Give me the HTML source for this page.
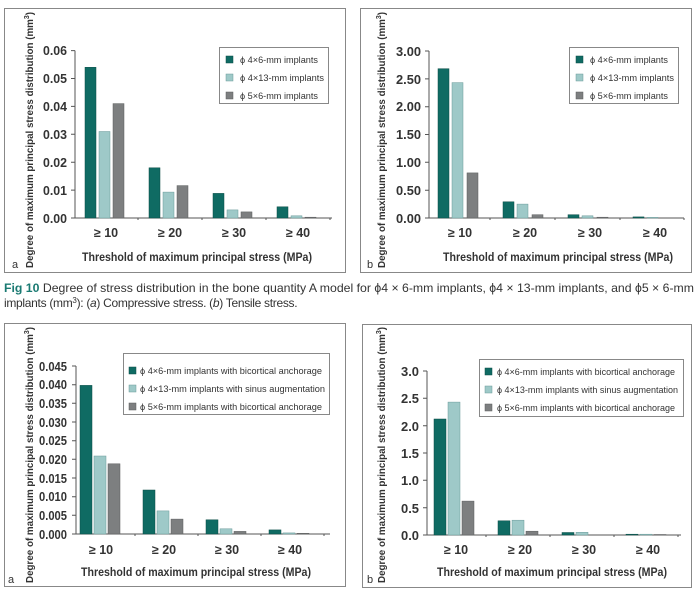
<!DOCTYPE html>
<html><head><meta charset="utf-8"><style>
body{margin:0;background:#fff}
svg{display:block;font-family:"Liberation Sans",sans-serif}
.t{font-size:12.5px;font-weight:bold;fill:#333}
.yt{font-size:10px;font-weight:bold;fill:#333}
.xt{font-size:11.5px;font-weight:bold;fill:#333}
.lg{font-size:9.5px;fill:#333}
.A{fill:#0f6b63;stroke:#0a4d47;stroke-width:.5}
.B{fill:#9ec9c8;stroke:#6a9a99;stroke-width:.5}
.C{fill:#7d7f80;stroke:#5a5c5d;stroke-width:.5}
.ax{stroke:#555;stroke-width:1;fill:none}
.box{fill:none;stroke:#888;stroke-width:1}
.cap{font-size:12px;fill:#333}
</style></head><body>
<svg width="700" height="592" viewBox="0 0 700 592">
<!-- Panel A1 -->
<rect class="box" x="4.5" y="8.5" width="341" height="264"/>
<path class="ax" d="M75 50.6V218H332 M71 50.6H75 M71 78.5H75 M71 106.4H75 M71 134.3H75 M71 162.2H75 M71 190.1H75 M71 218H75 M138 218v2 M202 218v2 M266 218v2 M330 218v2"/>
<g class="t" text-anchor="end"><text x="67" y="55" textLength="24" lengthAdjust="spacingAndGlyphs">0.06</text><text x="67" y="83" textLength="24" lengthAdjust="spacingAndGlyphs">0.05</text><text x="67" y="111" textLength="24" lengthAdjust="spacingAndGlyphs">0.04</text><text x="67" y="139" textLength="24" lengthAdjust="spacingAndGlyphs">0.03</text><text x="67" y="167" textLength="24" lengthAdjust="spacingAndGlyphs">0.02</text><text x="67" y="195" textLength="24" lengthAdjust="spacingAndGlyphs">0.01</text><text x="67" y="223" textLength="24" lengthAdjust="spacingAndGlyphs">0.00</text></g>
<rect class="A" x="85" y="67.3" width="11" height="150.7"/><rect class="B" x="99" y="131.5" width="11" height="86.5"/><rect class="C" x="113" y="103.6" width="11" height="114.4"/>
<rect class="A" x="149" y="167.8" width="11" height="50.2"/><rect class="B" x="163" y="192.1" width="11" height="25.9"/><rect class="C" x="177" y="185.6" width="11" height="32.4"/>
<rect class="A" x="213" y="193.4" width="11" height="24.6"/><rect class="B" x="227" y="209.9" width="11" height="8.1"/><rect class="C" x="241" y="211.9" width="11" height="6.1"/>
<rect class="A" x="277" y="206.8" width="11" height="11.2"/><rect class="B" x="291" y="215.8" width="11" height="2.2"/><rect class="C" x="305" y="217.2" width="11" height="0.8"/>
<g class="t" text-anchor="middle"><text x="106" y="237">≥ 10</text><text x="170" y="237">≥ 20</text><text x="234" y="237">≥ 30</text><text x="298" y="237">≥ 40</text></g>
<text class="xt" x="82" y="261" textLength="230" lengthAdjust="spacingAndGlyphs">Threshold of maximum principal stress (MPa)</text>
<text class="yt" transform="translate(33,268) rotate(-90)" textLength="256" lengthAdjust="spacingAndGlyphs">Degree of maximum principal stress distribution (mm<tspan dy="-4" font-size="7">3</tspan><tspan dy="4">)</tspan></text>
<text x="12" y="268" font-size="11" fill="#333">a</text>
<rect x="219.5" y="47.5" width="109" height="56" fill="#fff" stroke="#888"/>
<rect class="A" x="226" y="56" width="7" height="7"/><rect class="B" x="226" y="74" width="7" height="7"/><rect class="C" x="226" y="92" width="7" height="7"/>
<g class="lg"><text x="240" y="63" textLength="78" lengthAdjust="spacingAndGlyphs">ϕ 4×6-mm implants</text><text x="240" y="81" textLength="84" lengthAdjust="spacingAndGlyphs">ϕ 4×13-mm implants</text><text x="240" y="99" textLength="78" lengthAdjust="spacingAndGlyphs">ϕ 5×6-mm implants</text></g>

<!-- Panel B1 -->
<rect class="box" x="360.5" y="8.5" width="331" height="264"/>
<path class="ax" d="M429 51V218H684 M425 51H429 M425 78.9H429 M425 106.7H429 M425 134.5H429 M425 162.3H429 M425 190.2H429 M425 218H429 M490 218v2 M555 218v2 M620 218v2 M684 218v2"/>
<g class="t" text-anchor="end"><text x="421" y="56" textLength="25" lengthAdjust="spacingAndGlyphs">3.00</text><text x="421" y="84" textLength="25" lengthAdjust="spacingAndGlyphs">2.50</text><text x="421" y="111" textLength="25" lengthAdjust="spacingAndGlyphs">2.00</text><text x="421" y="139" textLength="25" lengthAdjust="spacingAndGlyphs">1.50</text><text x="421" y="167" textLength="25" lengthAdjust="spacingAndGlyphs">1.00</text><text x="421" y="195" textLength="25" lengthAdjust="spacingAndGlyphs">0.50</text><text x="421" y="223" textLength="25" lengthAdjust="spacingAndGlyphs">0.00</text></g>
<rect class="A" x="438" y="68.7" width="11" height="149.3"/><rect class="B" x="452" y="82.6" width="11" height="135.4"/><rect class="C" x="467" y="172.9" width="11" height="45.1"/>
<rect class="A" x="503" y="201.8" width="11" height="16.2"/><rect class="B" x="517" y="204.1" width="11" height="13.9"/><rect class="C" x="532" y="214.7" width="11" height="3.3"/>
<rect class="A" x="568" y="214.7" width="11" height="3.3"/><rect class="B" x="582" y="215.8" width="11" height="2.2"/><rect class="C" x="597" y="217.2" width="11" height="0.8"/>
<rect class="A" x="633" y="216.9" width="11" height="1.1"/><rect class="B" x="647" y="217.4" width="11" height="0.6"/>
<g class="t" text-anchor="middle"><text x="460" y="237">≥ 10</text><text x="525" y="237">≥ 20</text><text x="590" y="237">≥ 30</text><text x="655" y="237">≥ 40</text></g>
<text class="xt" x="443" y="261" textLength="230" lengthAdjust="spacingAndGlyphs">Threshold of maximum principal stress (MPa)</text>
<text class="yt" transform="translate(385,268) rotate(-90)" textLength="256" lengthAdjust="spacingAndGlyphs">Degree of maximum principal stress distribution (mm<tspan dy="-4" font-size="7">3</tspan><tspan dy="4">)</tspan></text>
<text x="367" y="268" font-size="11" fill="#333">b</text>
<rect x="569.5" y="47.5" width="109" height="56" fill="#fff" stroke="#888"/>
<rect class="A" x="576" y="56" width="7" height="7"/><rect class="B" x="576" y="74" width="7" height="7"/><rect class="C" x="576" y="92" width="7" height="7"/>
<g class="lg"><text x="590" y="63" textLength="78" lengthAdjust="spacingAndGlyphs">ϕ 4×6-mm implants</text><text x="590" y="81" textLength="84" lengthAdjust="spacingAndGlyphs">ϕ 4×13-mm implants</text><text x="590" y="99" textLength="78" lengthAdjust="spacingAndGlyphs">ϕ 5×6-mm implants</text></g>

<!-- Caption -->
<text class="cap" x="4" y="292" textLength="690" lengthAdjust="spacingAndGlyphs"><tspan fill="#1a7a72" font-weight="bold">Fig 10</tspan>   Degree of stress distribution in the bone quantity A model for ϕ4 × 6-mm implants, ϕ4 × 13-mm implants, and ϕ5 × 6-mm</text>
<text class="cap" x="4" y="307" font-size="11.5" letter-spacing="-0.3">implants (mm<tspan dy="-4" font-size="8">3</tspan><tspan dy="4">): (</tspan><tspan font-style="italic">a</tspan>) Compressive stress. (<tspan font-style="italic">b</tspan>) Tensile stress.</text>

<!-- Panel A2 -->
<rect class="box" x="4.5" y="323.5" width="341" height="263"/>
<path class="ax" d="M76 366V534H330 M72 366H76 M72 384.7H76 M72 403.3H76 M72 422H76 M72 440.7H76 M72 459.3H76 M72 478H76 M72 496.7H76 M72 515.3H76 M72 534H76 M135 534v2 M198 534v2 M261 534v2 M324 534v2"/>
<g class="t" text-anchor="end"><text x="67" y="371" textLength="28" lengthAdjust="spacingAndGlyphs">0.045</text><text x="67" y="389" textLength="28" lengthAdjust="spacingAndGlyphs">0.040</text><text x="67" y="408" textLength="28" lengthAdjust="spacingAndGlyphs">0.035</text><text x="67" y="427" textLength="28" lengthAdjust="spacingAndGlyphs">0.030</text><text x="67" y="445" textLength="28" lengthAdjust="spacingAndGlyphs">0.025</text><text x="67" y="464" textLength="28" lengthAdjust="spacingAndGlyphs">0.020</text><text x="67" y="483" textLength="28" lengthAdjust="spacingAndGlyphs">0.015</text><text x="67" y="501" textLength="28" lengthAdjust="spacingAndGlyphs">0.010</text><text x="67" y="520" textLength="28" lengthAdjust="spacingAndGlyphs">0.005</text><text x="67" y="539" textLength="28" lengthAdjust="spacingAndGlyphs">0.000</text></g>
<rect class="A" x="80" y="385.4" width="12" height="148.6"/><rect class="B" x="94" y="456" width="12" height="78"/><rect class="C" x="108" y="463.8" width="12" height="70.2"/>
<rect class="A" x="143" y="490" width="12" height="44"/><rect class="B" x="157" y="510.9" width="12" height="23.1"/><rect class="C" x="171" y="519.1" width="12" height="14.9"/>
<rect class="A" x="206" y="519.8" width="12" height="14.2"/><rect class="B" x="220" y="528.8" width="12" height="5.2"/><rect class="C" x="234" y="531.4" width="12" height="2.6"/>
<rect class="A" x="269" y="529.9" width="12" height="4.1"/><rect class="B" x="283" y="532.9" width="12" height="1.1"/><rect class="C" x="297" y="533.3" width="12" height="0.7"/>
<g class="t" text-anchor="middle"><text x="101" y="554">≥ 10</text><text x="164" y="554">≥ 20</text><text x="227" y="554">≥ 30</text><text x="290" y="554">≥ 40</text></g>
<text class="xt" x="81" y="576" textLength="230" lengthAdjust="spacingAndGlyphs">Threshold of maximum principal stress (MPa)</text>
<text class="yt" transform="translate(33,583) rotate(-90)" textLength="256" lengthAdjust="spacingAndGlyphs">Degree of maximum principal stress distribution (mm<tspan dy="-4" font-size="7">3</tspan><tspan dy="4">)</tspan></text>
<text x="8" y="583" font-size="11" fill="#333">a</text>
<rect x="123.5" y="353.5" width="206" height="61" fill="#fff" stroke="#888"/>
<rect class="A" x="129" y="367" width="7" height="7"/><rect class="B" x="129" y="385" width="7" height="7"/><rect class="C" x="129" y="403" width="7" height="7"/>
<g class="lg" font-size="9"><text x="140" y="374" textLength="182" lengthAdjust="spacingAndGlyphs">ϕ 4×6-mm implants with bicortical anchorage</text><text x="140" y="392" textLength="185" lengthAdjust="spacingAndGlyphs">ϕ 4×13-mm implants with sinus augmentation</text><text x="140" y="410" textLength="182" lengthAdjust="spacingAndGlyphs">ϕ 5×6-mm implants with bicortical anchorage</text></g>

<!-- Panel B2 -->
<rect class="box" x="362.5" y="324.5" width="329" height="263"/>
<path class="ax" d="M427 371V535H681 M423 371H427 M423 398.3H427 M423 425.7H427 M423 453H427 M423 480.3H427 M423 507.7H427 M423 535H427 M486 535v2 M550 535v2 M614 535v2 M678 535v2"/>
<g class="t" text-anchor="end"><text x="419" y="376" textLength="18" lengthAdjust="spacingAndGlyphs">3.0</text><text x="419" y="403" textLength="18" lengthAdjust="spacingAndGlyphs">2.5</text><text x="419" y="431" textLength="18" lengthAdjust="spacingAndGlyphs">2.0</text><text x="419" y="458" textLength="18" lengthAdjust="spacingAndGlyphs">1.5</text><text x="419" y="485" textLength="18" lengthAdjust="spacingAndGlyphs">1.0</text><text x="419" y="513" textLength="18" lengthAdjust="spacingAndGlyphs">0.5</text><text x="419" y="540" textLength="18" lengthAdjust="spacingAndGlyphs">0.0</text></g>
<rect class="A" x="434" y="419" width="12" height="116"/><rect class="B" x="448" y="402.1" width="12" height="132.9"/><rect class="C" x="462" y="501.1" width="12" height="33.9"/>
<rect class="A" x="498" y="520.8" width="12" height="14.2"/><rect class="B" x="512" y="520.2" width="12" height="14.8"/><rect class="C" x="526" y="531.2" width="12" height="3.8"/>
<rect class="A" x="562" y="532.5" width="12" height="2.5"/><rect class="B" x="576" y="532.3" width="12" height="2.7"/>
<rect class="A" x="626" y="534.2" width="12" height="0.8"/><rect class="B" x="640" y="534.2" width="12" height="0.8"/><rect class="C" x="654" y="534.5" width="12" height="0.5"/>
<g class="t" text-anchor="middle"><text x="456" y="554">≥ 10</text><text x="520" y="554">≥ 20</text><text x="584" y="554">≥ 30</text><text x="648" y="554">≥ 40</text></g>
<text class="xt" x="437" y="576" textLength="230" lengthAdjust="spacingAndGlyphs">Threshold of maximum principal stress (MPa)</text>
<text class="yt" transform="translate(385,583) rotate(-90)" textLength="256" lengthAdjust="spacingAndGlyphs">Degree of maximum principal stress distribution (mm<tspan dy="-4" font-size="7">3</tspan><tspan dy="4">)</tspan></text>
<text x="367" y="583" font-size="11" fill="#333">b</text>
<rect x="479.5" y="359.5" width="204" height="57" fill="#fff" stroke="#888"/>
<rect class="A" x="485" y="368" width="7" height="7"/><rect class="B" x="485" y="386" width="7" height="7"/><rect class="C" x="485" y="404" width="7" height="7"/>
<g class="lg" font-size="9"><text x="497" y="375" textLength="178" lengthAdjust="spacingAndGlyphs">ϕ 4×6-mm implants with bicortical anchorage</text><text x="497" y="393" textLength="181" lengthAdjust="spacingAndGlyphs">ϕ 4×13-mm implants with sinus augmentation</text><text x="497" y="411" textLength="178" lengthAdjust="spacingAndGlyphs">ϕ 5×6-mm implants with bicortical anchorage</text></g>
</svg>
</body></html>
